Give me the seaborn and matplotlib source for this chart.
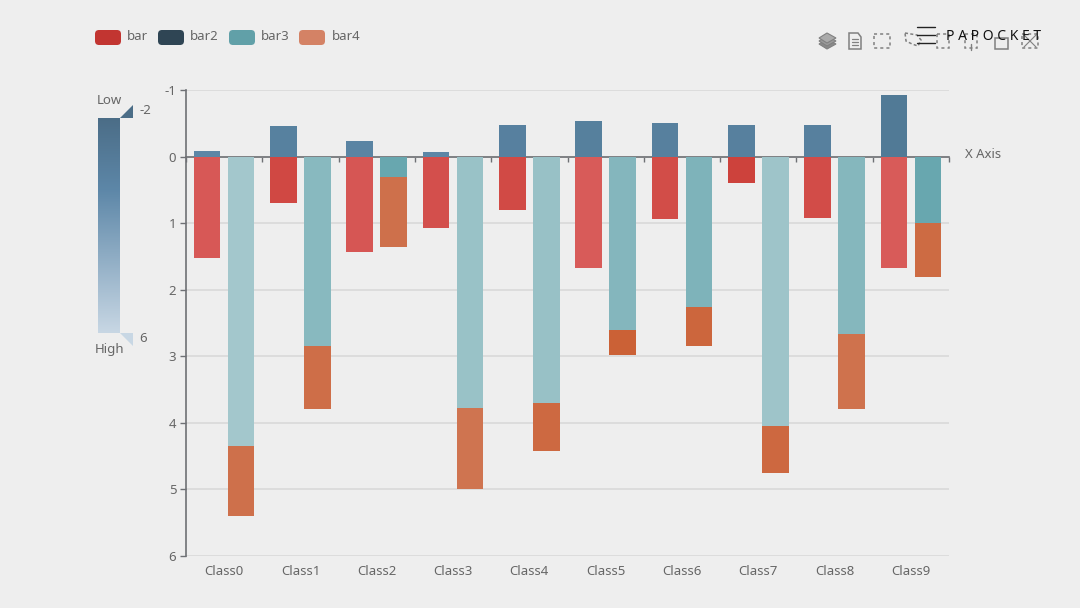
import numpy as np
import pandas as pd
import matplotlib
matplotlib.use("Agg")
import matplotlib.pyplot as plt
import matplotlib.colors as mcolors
from matplotlib.patches import FancyBboxPatch, Polygon, Rectangle
from matplotlib.lines import Line2D
import seaborn as sns

classes = ["Class0", "Class1", "Class2", "Class3", "Class4",
           "Class5", "Class6", "Class7", "Class8", "Class9"]
bar1 = [1.53, 0.69, 1.44, 1.08, 0.81, 1.68, 0.94, 0.39, 0.93, 1.67]
bar2 = [-0.08, -0.46, -0.23, -0.07, -0.47, -0.53, -0.50, -0.48, -0.48, -0.92]
bar3 = [4.35, 2.84, 0.30, 3.78, 3.70, 2.61, 2.26, 4.05, 2.67, 1.00]
bar4 = [1.05, 0.95, 1.06, 1.22, 0.72, 0.37, 0.59, 0.70, 1.12, 0.81]
y_ticks = [-1, 0, 1, 2, 3, 4, 5, 6]
legend_names = ["bar", "bar2", "bar3", "bar4"]
legend_colors = ["#c23531", "#2f4554", "#61a0a8", "#d48265"]

BG = "#eeeeee"
TXT = "#666666"
AXC = "#6e7074"

sns.set_style("white")
plt.rcParams["font.family"] = ["Noto Sans", "DejaVu Sans"]
plt.rcParams["axes.unicode_minus"] = False

fig = plt.figure(figsize=(10.8, 6.08), dpi=100, facecolor=BG)
ax = fig.add_axes([186 / 1080, 1 - 556 / 608, (949 - 186) / 1080, (556 - 90) / 608])
ax.set_facecolor(BG)


def shade(vals, v0, c0, v1, c1):
    # colour follows the value, same idea as the visual map lightness
    a = np.array(mcolors.to_rgb(c0))
    b = np.array(mcolors.to_rgb(c1))
    return [a + (b - a) * np.clip((v - v0) / (v1 - v0), 0, 1) for v in vals]


def draw(values, stack, colors):
    df = pd.DataFrame({"cls": classes, "val": values, "stack": stack})
    before = len(ax.patches)
    sns.barplot(data=df, x="cls", y="val", hue="stack", hue_order=["a", "b"],
                order=classes, width=0.89, gap=0.215, dodge=True, errorbar=None,
                legend=False, ax=ax, linewidth=0, zorder=3)
    for p, c in zip(ax.patches[before:], colors):
        p.set_facecolor(c)
        p.set_edgecolor("none")


# stack b is drawn back to front, the total first
total = [a + b for a, b in zip(bar3, bar4)]
draw(total, "b", shade(bar4, 0.37, "#cb6136", 1.22, "#cf7450"))
draw(bar3, "b", shade(bar3, 1.0, "#68a7af", 4.35, "#a3c7cc"))
draw(bar1, "a", shade(bar1, 0.39, "#cd423c", 1.68, "#d85b59"))
draw(bar2, "a", shade(bar2, -0.92, "#517a96", -0.08, "#5c86a6"))

ax.set_ylim(6, -1)
ax.set_xlim(-0.5, 9.5)
ax.set_xlabel("")
ax.set_ylabel("")
ax.set_yticks(y_ticks)
ax.set_xticks(range(len(classes)))
ax.set_xticklabels(classes)
ax.set_xticks(np.arange(-0.5, 10, 1), minor=True)
ax.grid(axis="y", color="#dcdcdc", linewidth=1.4)
ax.set_axisbelow(True)

for s in ["right", "bottom"]:
    ax.spines[s].set_visible(False)
ax.spines["left"].set_color(AXC)
ax.spines["left"].set_linewidth(1.2)
ax.spines["top"].set_position(("data", 0))
ax.spines["top"].set_color(AXC)
ax.spines["top"].set_linewidth(1.2)
ax.tick_params(axis="y", left=True, length=4, width=1, color=AXC, labelcolor=TXT,
               labelsize=9.5, pad=3)
ax.tick_params(axis="x", which="major", bottom=False, top=False, labelcolor=TXT,
               labelsize=9.5, pad=3)
ax.tick_params(axis="x", which="minor", bottom=False, top=True, direction="in",
               length=3.5, width=1, color=AXC)

# overlay in pixel coordinates for legend, visual map and toolbox
ov = fig.add_axes([0, 0, 1, 1], facecolor="none")
ov.set_xlim(0, 1080)
ov.set_ylim(608, 0)
ov.axis("off")


def label(x, y, s, ha="left", **kw):
    kw.setdefault("color", TXT)
    kw.setdefault("fontsize", 9.5)
    ov.text(x, y + 1, s, ha=ha, va="center", **kw)


label(965, 154, "X Axis")

for x0, x_txt, name, col in zip([95, 158, 229, 299], [127, 190, 261, 332],
                                legend_names, legend_colors):
    ov.add_patch(FancyBboxPatch((x0, 30), 26, 15, boxstyle="round,pad=0,rounding_size=4",
                                facecolor=col, edgecolor="none", linewidth=0))
    label(x_txt, 36, name)

grad = mcolors.LinearSegmentedColormap.from_list(
    "vm", ["#4b6d87", "#5d87a8", "#92afc6", "#c8d7e4"])
ov.imshow(np.linspace(0, 1, 256).reshape(-1, 1), cmap=grad, extent=(98, 120, 333, 118),
          aspect="auto", zorder=2)
ov.set_xlim(0, 1080)
ov.set_ylim(608, 0)
ov.add_patch(Polygon([(120, 118), (133, 118), (133, 105)], facecolor="#4b6d87", edgecolor="none"))
ov.add_patch(Polygon([(120, 333), (133, 333), (133, 346)], facecolor="#c8d7e4", edgecolor="none"))
label(97, 100, "Low")
label(139, 110, "-2")
label(95, 349, "High")
label(139, 338, "6")

ICON = "#808080"
# stack icon
for dy, fc in zip([6, 3, 0], ["#8a8a8a", "#9a9a9a", "#aaaaaa"]):
    ov.add_patch(Polygon([(819, 38 + dy), (827, 33 + dy), (836, 38 + dy), (827, 43 + dy)],
                         facecolor=fc, edgecolor=ICON, linewidth=0.8))
# document icon
ov.add_patch(Polygon([(849, 33), (858, 33), (861, 37), (861, 49), (849, 49)],
                     facecolor="none", edgecolor=ICON, linewidth=1.1))
for yy in [39, 42, 45]:
    ov.add_line(Line2D([852, 858], [yy, yy], color=ICON, linewidth=0.9))
# dashed boxes
for xc, w in zip([882, 943, 971, 1030], [16, 12, 12, 16]):
    ov.add_patch(Rectangle((xc - w / 2, 34), w, 14, facecolor="none", edgecolor=ICON,
                           linewidth=1.1, linestyle=(0, (2, 2))))
ov.add_patch(Polygon([(905, 33), (917, 35), (921, 40), (918, 46), (912, 44), (906, 41)],
                     facecolor="none", edgecolor=ICON, linewidth=1.1, linestyle=(0, (2, 1.5))))
ov.add_line(Line2D([971, 971], [44, 50], color=ICON, linewidth=1))
ov.add_patch(Rectangle((995, 38), 13, 11, facecolor="none", edgecolor=ICON, linewidth=1.1))
ov.add_line(Line2D([1024, 1036], [35, 47], color=ICON, linewidth=0.8))
ov.add_line(Line2D([1036, 1024], [35, 47], color=ICON, linewidth=0.8))

# watermark
for yy in [27, 35, 43]:
    ov.add_line(Line2D([917, 935], [yy, yy], color="#222222", linewidth=1))
label(946, 35, "P A P O C K E T", color="#111111", fontsize=10)

fig.savefig("out.png", dpi=100, facecolor=BG)
plt.close(fig)
